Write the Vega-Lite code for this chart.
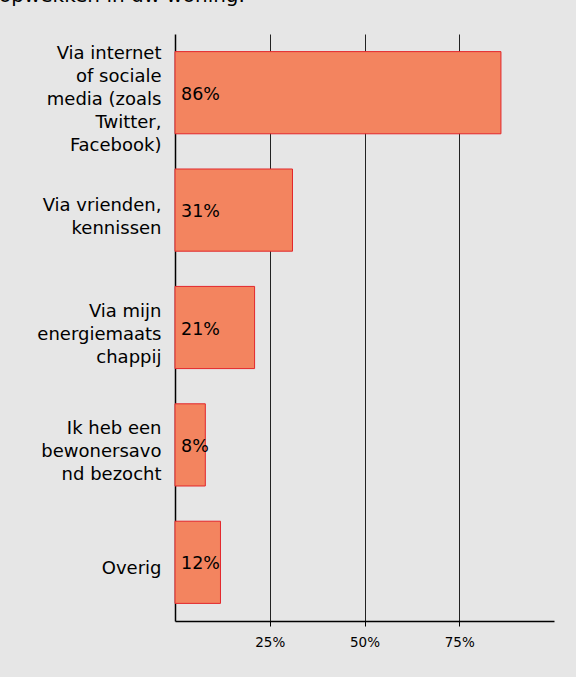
{
  "$schema": "https://vega.github.io/schema/vega-lite/v6.json",
  "width": 379,
  "height": 587,
  "autosize": {"type": "none"},
  "padding": {"left": 175, "top": 34, "right": 22, "bottom": 56},
  "background": "#e6e6e6",
  "title": {
    "text": "opwekken in uw woning.",
    "anchor": "start",
    "frame": "group",
    "dx": -176,
    "offset": 12,
    "baseline": "alphabetic",
    "fontSize": 20,
    "font": "DejaVu Sans",
    "fontWeight": "normal",
    "color": "#000000"
  },
  "data": {
    "values": [
      {"cat": "Via internet|of sociale|media (zoals|Twitter,|Facebook)", "pct": 0.86},
      {"cat": "Via vrienden,|kennissen", "pct": 0.31},
      {"cat": "Via mijn|energiemaats|chappij", "pct": 0.21},
      {"cat": "Ik heb een|bewonersavo|nd bezocht", "pct": 0.08},
      {"cat": "Overig", "pct": 0.12}
    ]
  },
  "encoding": {
    "y": {
      "field": "cat",
      "type": "nominal",
      "sort": null,
      "scale": {"paddingInner": 0.3, "paddingOuter": 0.15},
      "axis": {
        "title": null,
        "labelExpr": "split(datum.value, '|')",
        "ticks": false,
        "labelPadding": 14,
        "labelFontSize": 18,
        "labelFont": "DejaVu Sans",
        "labelColor": "#000000",
        "labelLineHeight": 23,
        "labelLimit": 200,
        "domainColor": "#000000",
        "domainWidth": 1.5,
        "grid": false,
        "labelOffset": {
          "condition": [
            {"test": "length(split(datum.value, '|')) == 5", "value": -39},
            {"test": "length(split(datum.value, '|')) == 3", "value": -16},
            {"test": "length(split(datum.value, '|')) == 2", "value": -4.5}
          ],
          "value": 7
        }
      }
    },
    "x": {
      "field": "pct",
      "type": "quantitative",
      "scale": {"domain": [0, 1]},
      "axis": {
        "title": null,
        "values": [0.25, 0.5, 0.75],
        "format": ".0%",
        "grid": true,
        "gridColor": "#222222",
        "gridWidth": 1,
        "tickColor": "#000000",
        "tickSize": 5,
        "domainColor": "#000000",
        "domainWidth": 1.5,
        "labelFontSize": 13.5,
        "labelFont": "DejaVu Sans",
        "labelColor": "#000000",
        "labelPadding": 9
      }
    }
  },
  "layer": [
    {
      "mark": {"type": "bar", "fill": "#f3845f", "stroke": "#e3262b", "strokeWidth": 1}
    },
    {
      "mark": {"type": "text", "align": "left", "baseline": "middle", "dx": 6, "dy": 2, "fontSize": 17.5, "font": "DejaVu Sans", "color": "#000000"},
      "encoding": {
        "x": {"datum": 0},
        "text": {"field": "pct", "type": "quantitative", "format": ".0%"}
      }
    }
  ],
  "config": {"view": {"stroke": null}}
}
